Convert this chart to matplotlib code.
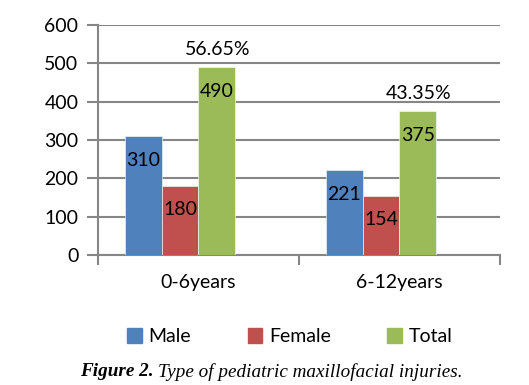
import numpy as np
import matplotlib.pyplot as plt
from matplotlib.patches import Patch

# datos
groups = ["0-6years", "6-12years"]
series = ["Male", "Female", "Total"]
male = [310, 221]
female = [180, 154]
total = [490, 375]
pct = ["56.65%", "43.35%"]
colors = ["#4F81BD", "#C0504D", "#9BBB59"]

plt.rcParams['font.family'] = ['Lato', 'DejaVu Sans']

fig = plt.figure(figsize=(5.29, 3.85), dpi=100)
ax = fig.add_axes([0.185, 0.3377, 0.76, 0.5974])

x = np.arange(len(groups))
w = 0.1825
vals = [male, female, total]
for k, (v, c) in enumerate(zip(vals, colors)):
    pos = x + (k - 1.5) * w
    bars = ax.bar(pos, v, w, color=c, edgecolor='white', linewidth=0.4, zorder=3)
    for b, val in zip(bars, v):
        ax.annotate(str(val), (b.get_x() + b.get_width() / 2, val),
                    xytext=(0, -24), textcoords='offset pixels',
                    ha='center', va='center', fontsize=14, zorder=4)

# porcentajes sobre Total
for i, p in enumerate(pct):
    ax.annotate(p, (x[i] + 0.5 * w, total[i]), xytext=(1, 18),
                textcoords='offset pixels', ha='center', va='center', fontsize=14)

ax.set_xlim(-0.5, 1.5)
ax.set_ylim(0, 600)
ax.set_yticks(range(0, 601, 100))
ax.yaxis.grid(True, color='#868686', linewidth=1.5, zorder=0)
ax.set_xticks([-0.5, 0.5, 1.5])
ax.set_xticklabels([])
ax.set_xticks(x, minor=True)
ax.set_xticklabels(groups, minor=True)
ax.tick_params(axis='x', which='minor', length=0, labelsize=14, pad=14)
ax.tick_params(axis='x', which='major', length=7, width=1.5, color='#868686', direction='out')
ax.tick_params(axis='y', length=8, width=1.5, color='#868686', labelsize=14, pad=6)
for s in ['top', 'right']:
    ax.spines[s].set_visible(False)
for s in ['left', 'bottom']:
    ax.spines[s].set_color('#868686')
    ax.spines[s].set_linewidth(1.5)

handles = [Patch(color=c) for c in colors]
fig.legend(handles, series, loc='center', bbox_to_anchor=(0.548, 0.125), ncol=3,
           frameon=False, fontsize=14, handlelength=0.75, handleheight=0.75,
           handletextpad=0.35, columnspacing=2.9)

t1 = fig.text(0.151, 0.034, "Figure 2.", fontsize=13.8, family='Liberation Serif',
              style='italic', weight='bold', va='center')
fig.canvas.draw()
bb = t1.get_window_extent()
fig.text(bb.x1 / fig.bbox.width + 0.009, 0.034, "Type of pediatric maxillofacial injuries.",
         fontsize=13.8, family='Liberation Serif', style='italic', va='center')

plt.savefig("out.png", dpi=100)
